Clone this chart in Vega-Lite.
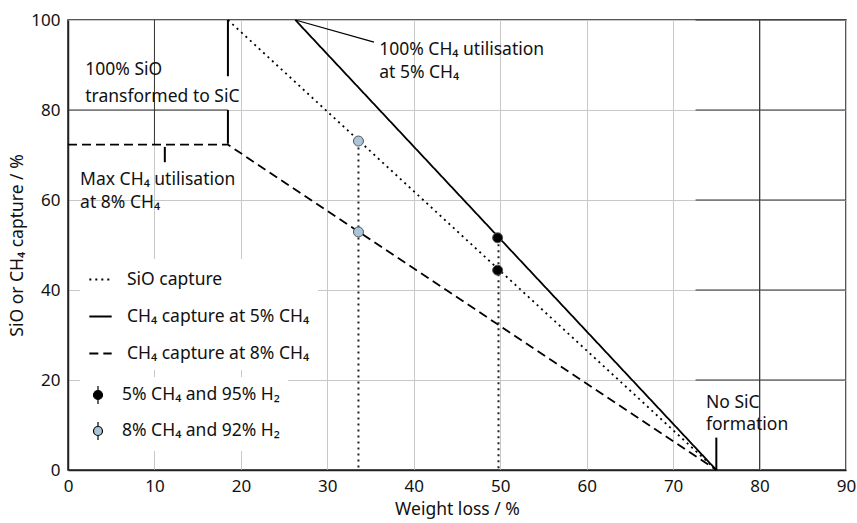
{
  "$schema": "https://vega.github.io/schema/vega-lite/v6.json",
  "width": 778,
  "height": 450,
  "autosize": {"type": "none"},
  "padding": {"left": 68, "top": 20, "right": 11, "bottom": 53},
  "config": {
    "font": "Noto Sans",
    "view": {"stroke": "#222", "strokeWidth": 1.5},
    "axis": {
      "grid": true, "gridColor": "#c8c8c8", "gridWidth": 1,
      "domain": true, "domainColor": "#222", "domainWidth": 1.5,
      "ticks": false, "labelFontSize": 17, "labelColor": "#111", "labelFlush": false,
      "titleFontSize": 17.5, "titleFontWeight": "normal", "titleColor": "#111"
    }
  },
  "layer": [
    {
      "data": {"values": [
        {"xa": 80, "xb": 80, "ya": 0, "yb": 100},
        {"xa": 72.6, "xb": 90, "ya": 20, "yb": 20},
        {"xa": 72.6, "xb": 90, "ya": 40, "yb": 40},
        {"xa": 72.6, "xb": 90, "ya": 60, "yb": 60},
        {"xa": 72.6, "xb": 90, "ya": 80, "yb": 80},
        {"xa": 72.6, "xb": 90, "ya": 100, "yb": 100},
        {"xa": 10, "xb": 10, "ya": 72.3, "yb": 100},
        {"xa": 0, "xb": 18.5, "ya": 80, "yb": 80}
      ]},
      "mark": {"type": "rule", "color": "#333", "strokeWidth": 1},
      "encoding": {
        "x": {"field": "xa", "type": "quantitative", "scale": {"domain": [0, 90], "nice": false},
              "axis": {"values": [0,10,20,30,40,50,60,70,80,90], "title": "Weight loss / %", "labelPadding": 8, "titlePadding": 6}},
        "x2": {"field": "xb"},
        "y": {"field": "ya", "type": "quantitative", "scale": {"domain": [0, 100], "nice": false},
              "axis": {"values": [0,20,40,60,80,100], "title": "SiO or CH₄ capture / %", "labelPadding": 8, "titlePadding": 4}},
        "y2": {"field": "yb"}
      }
    },
    {
      "data": {"values": [
        {"series": "SiO capture", "x": 18.5, "y": 100},
        {"series": "SiO capture", "x": 75, "y": 0},
        {"series": "CH₄ capture at 5% CH₄", "x": 26.3, "y": 100},
        {"series": "CH₄ capture at 5% CH₄", "x": 75, "y": 0},
        {"series": "CH₄ capture at 8% CH₄", "x": 0, "y": 72.3},
        {"series": "CH₄ capture at 8% CH₄", "x": 18.5, "y": 72.3},
        {"series": "CH₄ capture at 8% CH₄", "x": 75, "y": 0}
      ]},
      "mark": {"type": "line", "color": "black", "strokeWidth": 1.8},
      "encoding": {
        "x": {"field": "x", "type": "quantitative"},
        "y": {"field": "y", "type": "quantitative"},
        "strokeDash": {
          "field": "series", "type": "nominal",
          "scale": {"domain": ["SiO capture", "CH₄ capture at 5% CH₄", "CH₄ capture at 8% CH₄"],
                    "range": [[2, 4], [1, 0], [9, 5]]},
          "legend": {
            "title": null, "orient": "none", "legendX": 12, "legendY": 239,
            "fillColor": "white", "padding": 8, "rowPadding": 16,
            "symbolSize": 500, "symbolStrokeColor": "black", "symbolStrokeWidth": 2,
            "labelFontSize": 17.5, "labelColor": "#111", "labelOffset": 14, "labelLimit": 300
          }
        }
      }
    },
    {
      "data": {"values": [
        {"x": 33.6, "ytop": 73, "ybot": 0},
        {"x": 49.8, "ytop": 51.5, "ybot": 0}
      ]},
      "mark": {"type": "rule", "color": "#222", "strokeDash": [2, 4], "strokeWidth": 2},
      "encoding": {
        "x": {"field": "x", "type": "quantitative"},
        "y": {"field": "ytop", "type": "quantitative"},
        "y2": {"field": "ybot"}
      }
    },
    {
      "data": {"values": [
        {"xa": 18.5, "xb": 18.5, "ya": 100, "yb": 87.5},
        {"xa": 18.5, "xb": 18.5, "ya": 80, "yb": 72.5},
        {"xa": 11.2, "xb": 11.2, "ya": 71.8, "yb": 68.4},
        {"xa": 75, "xb": 75, "ya": 7.2, "yb": 0}
      ]},
      "mark": {"type": "rule", "color": "black", "strokeWidth": 2},
      "encoding": {
        "x": {"field": "xa", "type": "quantitative"},
        "x2": {"field": "xb"},
        "y": {"field": "ya", "type": "quantitative"},
        "y2": {"field": "yb"}
      }
    },
    {
      "data": {"values": [
        {"xa": 26.3, "xb": 35.4, "ya": 100, "yb": 95.1}
      ]},
      "mark": {"type": "rule", "color": "black", "strokeWidth": 1.2},
      "encoding": {
        "x": {"field": "xa", "type": "quantitative"},
        "x2": {"field": "xb"},
        "y": {"field": "ya", "type": "quantitative"},
        "y2": {"field": "yb"}
      }
    },
    {
      "data": {"values": [
        {"gas": "5% CH₄ and 95% H₂", "x": 49.7, "y": 51.6},
        {"gas": "5% CH₄ and 95% H₂", "x": 49.7, "y": 44.4},
        {"gas": "8% CH₄ and 92% H₂", "x": 33.6, "y": 73.1},
        {"gas": "8% CH₄ and 92% H₂", "x": 33.6, "y": 52.9}
      ]},
      "mark": {"type": "point", "filled": true, "size": 100, "stroke": "#555", "strokeWidth": 1, "opacity": 1},
      "encoding": {
        "x": {"field": "x", "type": "quantitative"},
        "y": {"field": "y", "type": "quantitative"},
        "fill": {
          "field": "gas", "type": "nominal",
          "scale": {"domain": ["5% CH₄ and 95% H₂", "8% CH₄ and 92% H₂"], "range": ["black", "#a9c6d9"]},
          "legend": {
            "title": null, "orient": "none", "legendX": 12, "legendY": 357,
            "fillColor": "white", "padding": 8, "rowPadding": 12,
            "symbolType": "M0,-1V-0.5M0,0.5V1M-0.5,0A0.5,0.5 0 1 0 0.5,0A0.5,0.5 0 1 0 -0.5,0Z",
            "symbolSize": 324, "symbolStrokeColor": "black", "symbolStrokeWidth": 1.2, "symbolOpacity": 1,
            "labelFontSize": 17.5, "labelColor": "#111", "labelOffset": 14, "labelLimit": 300
          }
        }
      }
    },
    {
      "data": {"values": [
        {"x": 2.0, "y": 88.9, "t": "100% SiO"},
        {"x": 2.0, "y": 82.9, "t": "transformed to SiC"},
        {"x": 36.0, "y": 93.3, "t": "100% CH₄ utilisation"},
        {"x": 36.0, "y": 88.2, "t": "at 5% CH₄"},
        {"x": 1.4, "y": 64.4, "t": "Max CH₄ utilisation"},
        {"x": 1.4, "y": 59.3, "t": "at 8% CH₄"},
        {"x": 73.8, "y": 14.9, "t": "No SiC"},
        {"x": 73.8, "y": 10.0, "t": "formation"}
      ]},
      "mark": {"type": "text", "align": "left", "baseline": "middle", "fontSize": 17.5, "color": "#111"},
      "encoding": {
        "x": {"field": "x", "type": "quantitative"},
        "y": {"field": "y", "type": "quantitative"},
        "text": {"field": "t"}
      }
    }
  ]
}
